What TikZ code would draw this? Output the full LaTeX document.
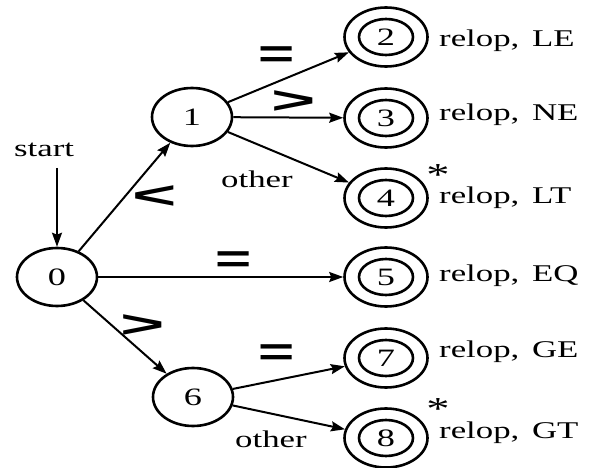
\documentclass[tikz,border=0pt]{standalone}
\usepackage{fontspec}
\usepackage{graphicx}
\setmainfont[FakeStretch=1.45]{Liberation Serif}
\newfontfamily\opfont{Liberation Sans}
\usetikzlibrary{shapes.geometric,arrows.meta}
\newcommand{\opsym}[1]{\scalebox{1.55}[1]{#1}}
\newcommand{\opang}[1]{\scalebox{1.9}[0.95]{#1}}
\begin{document}
\begin{tikzpicture}[x=1pt,y=-1pt,
  txt/.style={font=\fontsize{24}{24}\selectfont},
  numtxt/.style={font=\fontsize{25}{25}\selectfont},
  state/.style={ellipse, draw, line width=2.6pt, minimum width=80pt, minimum height=58pt, inner sep=0pt, numtxt},
  accout/.style={ellipse, draw, line width=2.6pt, minimum width=83pt, minimum height=59pt, inner sep=0pt},
  accin/.style={ellipse, draw, line width=2.6pt, minimum width=54pt, minimum height=36pt, inner sep=0pt, numtxt},
  edge/.style={line width=2pt, -{Stealth[length=14pt,width=10pt,inset=2pt]}},
  op/.style={font=\opfont\bfseries\fontsize{40}{40}\selectfont, inner sep=0pt},
  lab/.style={txt, inner sep=0pt, anchor=base west},
  star/.style={font=\fontsize{32}{32}\selectfont, inner sep=0pt, anchor=south}]
\useasboundingbox (0,0) rectangle (592,468);

% states
\node[state] (n0) at (57,277) {0};
\node[state] (n1) at (192,117) {1};
\node[state] (n6) at (193,397) {6};

\node[accout] (s2) at (386,37) {};  \node[accin] (s2i) at (s2) {2};
\node[accout] (s3) at (386,118) {}; \node[accin] (s3i) at (s3) {3};
\node[accout] (s4) at (386,198) {}; \node[accin] (s4i) at (s4) {4};
\node[accout] (s5) at (386,277) {}; \node[accin] (s5i) at (s5) {5};
\node[accout] (s7) at (386,358) {}; \node[accin] (s7i) at (s7) {7};
\node[accout] (s8) at (386,438) {}; \node[accin] (s8i) at (s8) {8};

% result labels
\node[lab] (l2) at (439,47) {relop,\hspace{4pt} LE};
\node[lab] (l3) at (439,121) {relop,\hspace{4pt} NE};
\node[lab] (l4) at (439,204) {relop,\hspace{4pt} LT};
\node[lab] (l5) at (439,281) {relop,\hspace{4pt} EQ};
\node[lab] (l7) at (439,357) {relop,\hspace{4pt} GE};
\node[lab] (l8) at (439,438) {relop,\hspace{4pt} GT};
\node[star] (a4) at (438,186) {*};
\node[star] (a8) at (438,420) {*};

% start
\node[lab] (tstart) at (14,157) {start};
\coordinate (st) at (57,168);
\draw[edge] (st) -- (n0);

% edges
\draw[edge] (n0) -- (n1);
\draw[edge] (n1) -- (s2);
\draw[edge] (n1) -- (s3);
\draw[edge] (n1) -- (s4);
\draw[edge] (n0) -- (s5);
\draw[edge] (n0) -- (n6);
\draw[edge] (n6) -- (s7);
\draw[edge] (n6) -- (s8);

% edge labels
\node[op] (e12) at (277,57) {\opsym{=}};
\node[op] (e13) at (294,102) {\opang{>}};
\node[op] (e01) at (155,197) {\opang{<}};
\node[op] (e05) at (234,262) {\opsym{=}};
\node[op] (e06) at (143,326) {\opang{>}};
\node[op] (e67) at (277,355) {\opsym{=}};
\node[lab] (o14) at (221,187) {other};
\node[lab] (o68) at (235,447) {other};
\end{tikzpicture}
\end{document}
